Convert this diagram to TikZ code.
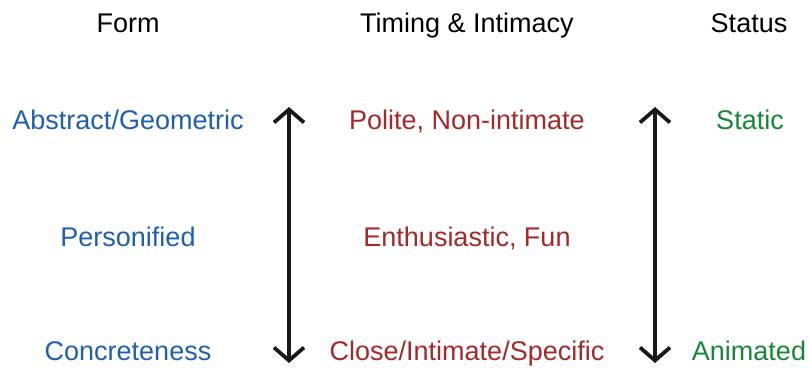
\documentclass[tikz,border=0pt]{standalone}
\usepackage{fontspec}
\setmainfont{Liberation Sans}
\usepackage{xcolor}
\usepackage{tikz}
\usetikzlibrary{arrows.meta,positioning}
\definecolor{formblue}{RGB}{31,95,173}
\definecolor{timered}{RGB}{165,40,40}
\definecolor{statgreen}{RGB}{23,135,55}

\begin{document}
\begin{tikzpicture}[x=1pt,y=1pt,every node/.style={font=\fontsize{27}{32}\selectfont,inner sep=0pt,anchor=base},
          head/.style={text=black},
          formtxt/.style={text=formblue},
          timetxt/.style={text=timered},
          stattxt/.style={text=statgreen},
          scalearrow/.style={line width=3.6pt,black!90,{Straight Barb[length=13pt,width=30pt,line width=3.8pt]}-{Straight Barb[length=13pt,width=30pt,line width=3.8pt]}}]
        \useasboundingbox (0,0) rectangle (809,367);
        % column headers
        \node[head] (form) at (128,334) {Form};
        \node[head] (timing) at (467,334) {Timing \& Intimacy};
        \node[head] (status) at (749,334) {Status};
        % form column
        \node[formtxt] (abstract) at (128,237) {Abstract/Geometric};
        \node[formtxt] (personified) at (128,120) {Personified};
        \node[formtxt] (concrete) at (128,6) {Concreteness};
        % timing column
        \node[timetxt] (polite) at (467,237) {Polite, Non-intimate};
        \node[timetxt] (fun) at (467,120) {Enthusiastic, Fun};
        \node[timetxt] (close) at (467,6) {Close/Intimate/Specific};
        % status column
        \node[stattxt] (static) at (750,237) {Static};
        \node[stattxt] (animated) at (749,6) {Animated};
        % scales
        \coordinate (a1top) at (289,260);
        \coordinate (a1bot) at (289,4);
        \coordinate (a2top) at (655,260);
        \coordinate (a2bot) at (655,4);
        \foreach \a/\b in {a1top/a1bot,a2top/a2bot}
          \draw[scalearrow] (\a)--(\b);
      \end{tikzpicture}
\end{document}
